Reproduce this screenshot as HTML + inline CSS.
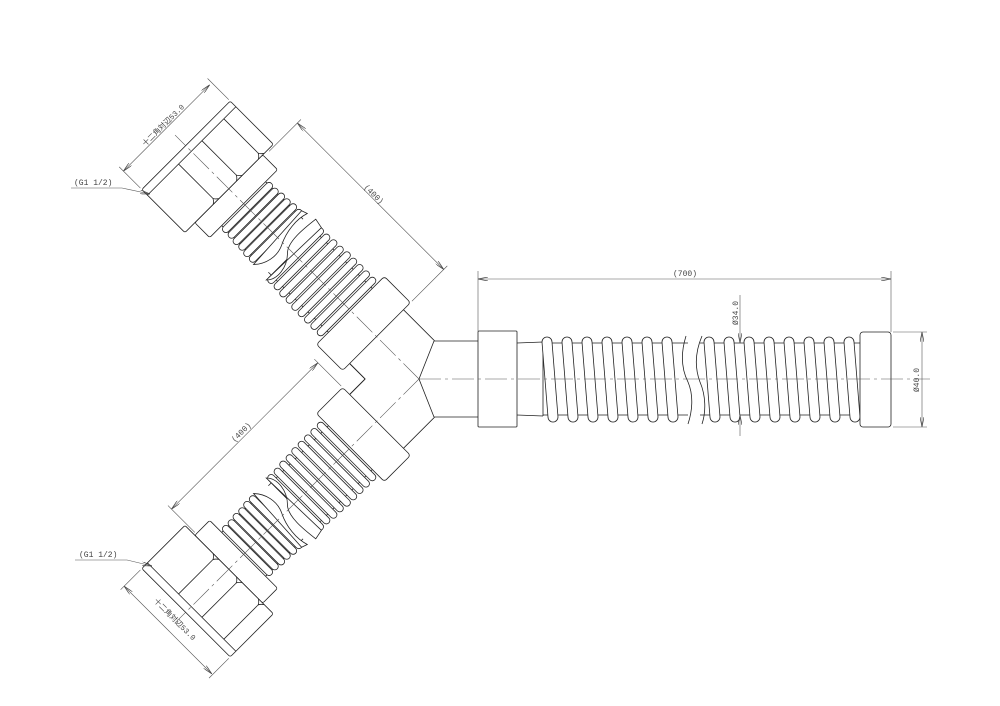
<!DOCTYPE html>
<html><head><meta charset="utf-8"><style>
html,body{margin:0;padding:0;background:#fff;}
svg{display:block;}
text{font-family:"Liberation Mono","Noto Sans CJK JP",monospace;font-size:8px;fill:#444;}
.l{fill:none;stroke:#222;stroke-width:0.8;}
.w{fill:#fff;stroke:#222;stroke-width:0.8;}
.d{fill:none;stroke:#555;stroke-width:0.6;}
.c{fill:none;stroke:#555;stroke-width:0.6;stroke-dasharray:22 4 3 4;}
</style></head><body>
<svg width="1000" height="706" viewBox="0 0 1000 706" xmlns="http://www.w3.org/2000/svg">
<defs>
<marker id="a" viewBox="0 0 10 4" refX="10" refY="2" markerWidth="10" markerHeight="4" orient="auto" markerUnits="userSpaceOnUse">
<path d="M0,0 L10,2 L0,4" fill="none" stroke="#444" stroke-width="0.7"/></marker>
<g id="arm">
<path class="l" d="M16,38 L60,38 M60,-38 L38,-38"/>
<rect class="w" x="60" y="-48" width="37" height="96" rx="3"/>
<path class="l" d="M97,-31 H182 M97,31 H182 M195,-31 H248 M195,31 H248"/>
<g>
<rect class="w" x="99" y="-40" width="7" height="80" rx="3.5"/>
<rect class="w" x="108" y="-40" width="7" height="80" rx="3.5"/>
<rect class="w" x="117" y="-40" width="7" height="80" rx="3.5"/>
<rect class="w" x="126" y="-40" width="7" height="80" rx="3.5"/>
<rect class="w" x="135" y="-40" width="7" height="80" rx="3.5"/>
<rect class="w" x="144" y="-39" width="7" height="78" rx="3.5"/>
<rect class="w" x="153" y="-39" width="7" height="78" rx="3.5"/>
<rect class="w" x="162" y="-38" width="7" height="76" rx="3.5"/>
<rect class="w" x="171" y="-38" width="7" height="76" rx="3.5"/>
<path class="w" d="M178,-38 C170,-30 172,-14 182,-4 C190,4 188,24 186,40 L176,38 Z"/>
<rect class="w" x="199" y="-36" width="7" height="72" rx="3.5"/>
<rect class="w" x="207" y="-36" width="7" height="72" rx="3.5"/>
<rect class="w" x="215" y="-35" width="7" height="70" rx="3.5"/>
<rect class="w" x="223" y="-35" width="7" height="70" rx="3.5"/>
<rect class="w" x="231" y="-34" width="7" height="68" rx="3.5"/>
<rect class="w" x="239" y="-34" width="7" height="68" rx="3.5"/>
<path class="w" d="M198,-36 C190,-28 186,-14 192,-2 C198,10 200,26 196,38 L202,36 Z"/>
</g>
<rect class="w" x="248" y="-48" width="21" height="96" rx="2"/>
<rect class="w" x="269" y="-62" width="61" height="125" rx="2"/>
<path class="l" d="M274,46 H322 M274,15 H322 M274,-18 H322 M322,-62 V63"/>
<path class="l" d="M269,50 Q272,46 274,46 Q272,46 269,42 M269,19 Q272,15 274,15 Q272,15 269,11 M269,-14 Q272,-18 274,-18 Q272,-18 269,-22"/>
<path class="c" d="M0,0 H345"/>
</g>
</defs>

<g transform="translate(419,379) rotate(-135)"><use href="#arm"/>
<path class="d" d="M60,50 V100 M267,55 V100 M332,-62 H362 M332,63 H362"/>
<path class="d" d="M163,95 H60" marker-end="url(#a)"/>
<path class="d" d="M163,95 H267" marker-end="url(#a)"/>
<path class="d" d="M356,0 V-62" marker-end="url(#a)"/>
<path class="d" d="M356,0 V60" marker-end="url(#a)"/>
</g>
<g transform="translate(0,758) scale(1,-1)">
<g transform="translate(419,379) rotate(-135)"><use href="#arm"/>
<path class="d" d="M60,-50 V-88 M267,-50 V-88 M332,-62 H360 M332,63 H360"/>
<path class="d" d="M163,-83 H60" marker-end="url(#a)"/>
<path class="d" d="M163,-83 H267" marker-end="url(#a)"/>
<path class="d" d="M355,0 V-62" marker-end="url(#a)"/>
<path class="d" d="M355,0 V62" marker-end="url(#a)"/>
</g></g>

<path class="l" d="M434,341 L419,379 L434,417 M434,341 H478 M434,417 H478"/>
<path class="l" d="M350,364 L365,379 L350,394"/>

<rect class="w" x="478" y="331" width="39" height="96" rx="1"/>
<path class="l" d="M517,343 L543,342 M517,415 L543,416 M543,342 V416"/>
<path class="l" d="M543,343 H688 M543,415 H688 M700,343 H860 M700,415 H860"/>
<g class="w">
<path d="M542,342 A5,5 0 0 1 552,342 L558,417 A5,5 0 0 1 548,417 Z"/>
<path d="M562,342 A5,5 0 0 1 572,342 L578,417 A5,5 0 0 1 568,417 Z"/>
<path d="M582,342 A5,5 0 0 1 592,342 L598,417 A5,5 0 0 1 588,417 Z"/>
<path d="M602,342 A5,5 0 0 1 612,342 L618,417 A5,5 0 0 1 608,417 Z"/>
<path d="M622,342 A5,5 0 0 1 632,342 L638,417 A5,5 0 0 1 628,417 Z"/>
<path d="M642,342 A5,5 0 0 1 652,342 L658,417 A5,5 0 0 1 648,417 Z"/>
<path d="M662,342 A5,5 0 0 1 672,342 L678,417 A5,5 0 0 1 668,417 Z"/>
<path d="M704,342 A5,5 0 0 1 714,342 L720,417 A5,5 0 0 1 710,417 Z"/>
<path d="M724,342 A5,5 0 0 1 734,342 L740,417 A5,5 0 0 1 730,417 Z"/>
<path d="M744,342 A5,5 0 0 1 754,342 L760,417 A5,5 0 0 1 750,417 Z"/>
<path d="M764,342 A5,5 0 0 1 774,342 L780,417 A5,5 0 0 1 770,417 Z"/>
<path d="M784,342 A5,5 0 0 1 794,342 L800,417 A5,5 0 0 1 790,417 Z"/>
<path d="M804,342 A5,5 0 0 1 814,342 L820,417 A5,5 0 0 1 810,417 Z"/>
<path d="M824,342 A5,5 0 0 1 834,342 L840,417 A5,5 0 0 1 830,417 Z"/>
<path d="M844,342 A5,5 0 0 1 854,342 L860,417 A5,5 0 0 1 850,417 Z"/>
</g>
<path class="l" d="M686,336 C680,355 682,370 688,382 C694,396 692,412 688,424"/>
<path class="l" d="M702,336 C696,350 694,366 700,382 C706,396 706,412 702,424"/>
<rect class="w" x="860" y="332" width="31" height="95" rx="3"/>
<path class="c" d="M419,379 H930"/>

<path class="d" d="M478,331 V271 M891,332 V271 M893,332 H927 M893,427 H927"/>
<path class="d" d="M685,279 H478" marker-end="url(#a)"/>
<path class="d" d="M685,279 H891" marker-end="url(#a)"/>
<path class="d" d="M922,379 V332" marker-end="url(#a)"/>
<path class="d" d="M922,379 V427" marker-end="url(#a)"/>
<path class="d" d="M740,295 V343" marker-end="url(#a)"/>
<path class="d" d="M740,436 V415" marker-end="url(#a)"/>
<text x="685" y="276" text-anchor="middle">(700)</text>
<text transform="translate(738,313) rotate(-90)" text-anchor="middle">Ø34.0</text>
<text transform="translate(919,380) rotate(-90)" text-anchor="middle">Ø40.0</text>

<text transform="translate(372,196) rotate(45)" text-anchor="middle">(400)</text>
<text transform="translate(165,127) rotate(-45)" text-anchor="middle" style="font-size:7.5px">十二角対辺53.0</text>
<text x="74" y="185">(G1 1/2)</text>
<path class="d" d="M71,188 H122 L150,194" marker-end="url(#a)"/>
<text transform="translate(243,434) rotate(-45)" text-anchor="middle">(400)</text>
<text transform="translate(173,621) rotate(45)" text-anchor="middle" style="font-size:7.5px">十二角対辺53.0</text>
<text x="79" y="557">(G1 1/2)</text>
<path class="d" d="M75,560 H127 L152,566" marker-end="url(#a)"/>
</svg>
</body></html>
